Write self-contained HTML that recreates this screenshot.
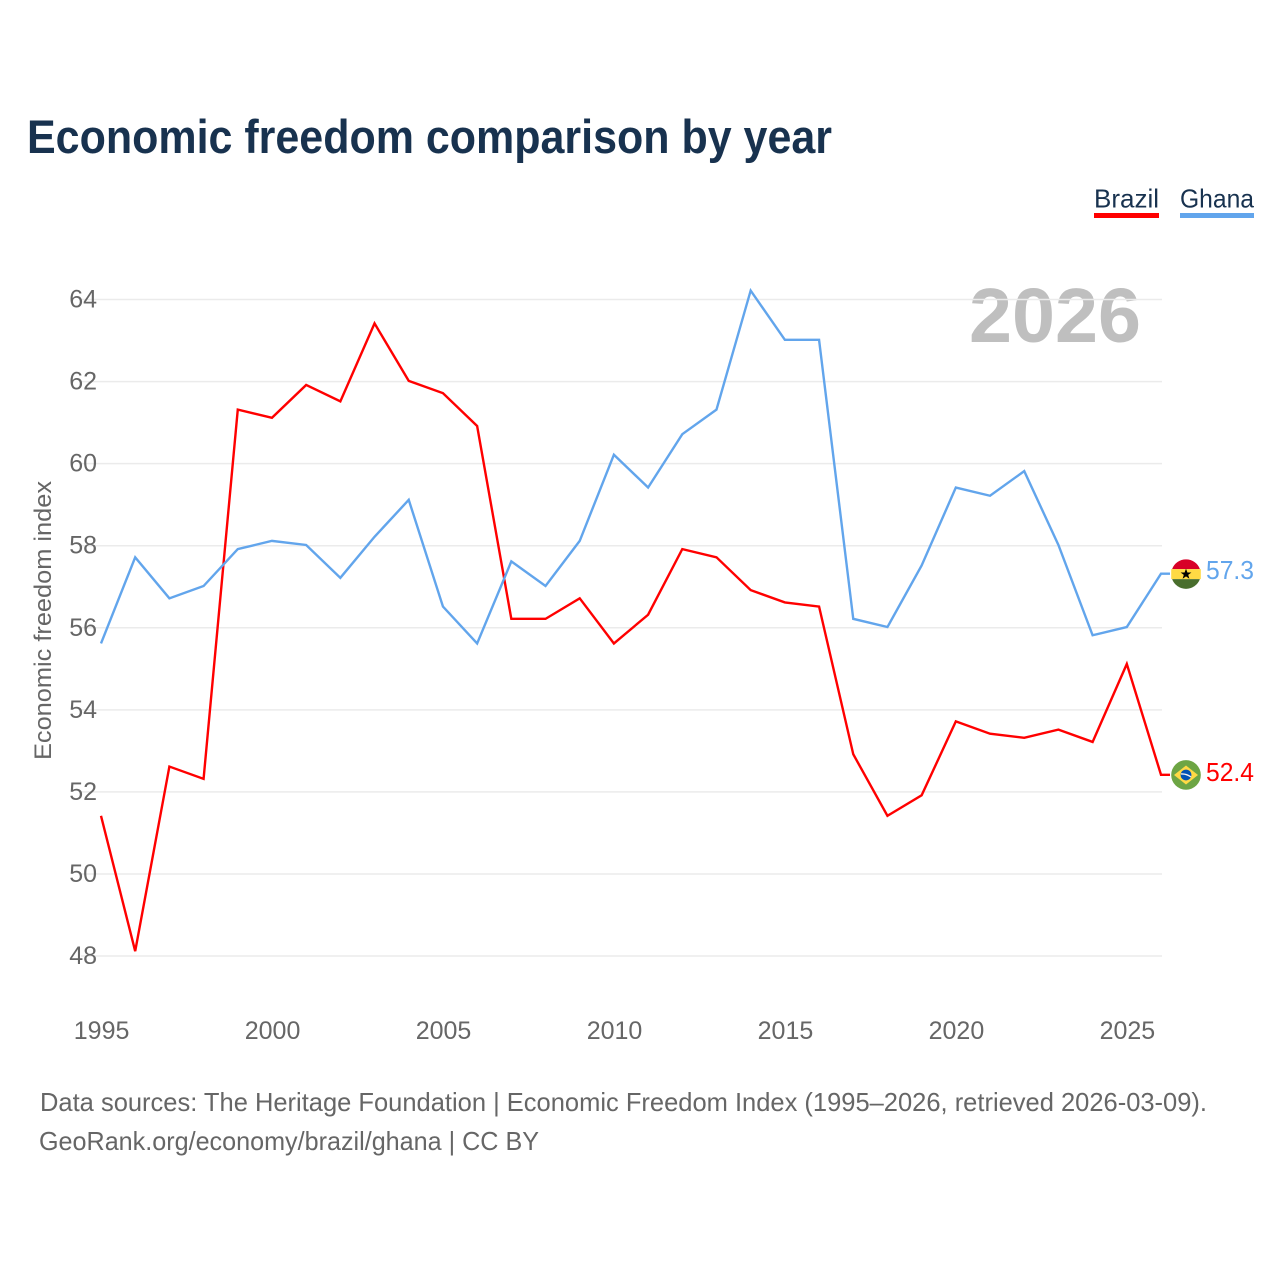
<!DOCTYPE html>
<html lang="en">
<head>
<meta charset="utf-8">
<title>Economic freedom comparison by year</title>
<style>
html,body{margin:0;padding:0;background:#fff;width:1280px;height:1280px;overflow:hidden}
svg{display:block}
text{font-family:"Liberation Sans",sans-serif}
</style>
</head>
<body>
<svg id="chart" xmlns="http://www.w3.org/2000/svg" width="1280" height="1280" viewBox="0 0 1280 1280">
  <rect width="1280" height="1280" fill="#fff"/>
  <text x="27" y="153" font-size="47" font-weight="700" fill="#18324f" textLength="805" lengthAdjust="spacingAndGlyphs">Economic freedom comparison by year</text>

  <g>
    <g>
      <text x="1094" y="207.5" font-size="26" fill="#18324f" textLength="65" lengthAdjust="spacingAndGlyphs">Brazil</text>
      <rect x="1094" y="213" width="65" height="5" fill="#ff0000"/>
    </g>
    <g>
      <text x="1180" y="207.5" font-size="26" fill="#18324f" textLength="74" lengthAdjust="spacingAndGlyphs">Ghana</text>
      <rect x="1180" y="213" width="74" height="5" fill="#62a5ec"/>
    </g>
  </g>

  <text x="969" y="342" font-size="77" font-weight="700" fill="#bfbfbf" textLength="172" lengthAdjust="spacingAndGlyphs">2026</text>

  <g id="grid"></g>
  <g id="yticks"></g>
  <g id="xticks"></g>

  <text transform="translate(51 760) rotate(-90)" font-size="24" fill="#666666" textLength="279" lengthAdjust="spacingAndGlyphs">Economic freedom index</text>

  <g id="series"></g>
  <g id="endpoints"></g>

  <g>
    <text x="40" y="1111" font-size="26" fill="#666666" textLength="1167" lengthAdjust="spacingAndGlyphs">Data sources: The Heritage Foundation | Economic Freedom Index (1995–2026, retrieved 2026-03-09).</text>
    <text x="39" y="1150" font-size="26" fill="#666666" textLength="500" lengthAdjust="spacingAndGlyphs">GeoRank.org/economy/brazil/ghana | CC BY</text>
  </g>
</svg>
<script>
const years = [1995,1996,1997,1998,1999,2000,2001,2002,2003,2004,2005,2006,2007,2008,2009,2010,2011,2012,2013,2014,2015,2016,2017,2018,2019,2020,2021,2022,2023,2024,2025,2026];
const brazilValues = [51.4,48.1,52.6,52.3,61.3,61.1,61.9,61.5,63.4,62.0,61.7,60.9,56.2,56.2,56.7,55.6,56.3,57.9,57.7,56.9,56.6,56.5,52.9,51.4,51.9,53.7,53.4,53.3,53.5,53.2,55.1,52.4];
const ghanaValues = [55.6,57.7,56.7,57.0,57.9,58.1,58.0,57.2,58.2,59.1,56.5,55.6,57.6,57.0,58.1,60.2,59.4,60.7,61.3,64.2,63.0,63.0,56.2,56.0,57.5,59.4,59.2,59.8,58.0,55.8,56.0,57.3];
const yTickValues = [48,50,52,54,56,58,60,62,64];
const xTickValues = [1995,2000,2005,2010,2015,2020,2025];

const NS = 'http://www.w3.org/2000/svg';
const xScale = function (year) { return 101 + (year - 1995) * (1161 - 101) / 31; };
const yScale = function (value) { return 956 - (value - 48) * (956 - 299.5) / 16; };
const lineY = function (value) { return yScale(value) - 0.7; };

function make(tag, attrs, parent) {
  const el = document.createElementNS(NS, tag);
  Object.keys(attrs).forEach(function (k) { el.setAttribute(k, attrs[k]); });
  parent.appendChild(el);
  return el;
}

const grid = document.getElementById('grid');
const yticks = document.getElementById('yticks');
yTickValues.forEach(function (v) {
  const y = yScale(v);
  const line = make('line', {x1: 81, x2: 1162, y1: y, y2: y, stroke: '#ebebeb', 'stroke-width': 1.5}, grid);
  
  
  const label = make('text', {x: 97, y: y + 8, 'text-anchor': 'end', 'font-size': 25, fill: '#666666'}, yticks);
  label.textContent = String(v);
  
  
});

const xticks = document.getElementById('xticks');
xTickValues.forEach(function (yr) {
  const label = make('text', {x: xScale(yr) + 0.6, y: 1039, 'text-anchor': 'middle', 'font-size': 25, fill: '#666666'}, xticks);
  label.textContent = String(yr);
  
  
});

const seriesGroup = document.getElementById('series');
const endpoints = document.getElementById('endpoints');

function drawLine(values, colour, key) {
  const pts = values.map(function (v, i) { return xScale(years[i]) + ',' + lineY(v); });
  const lastY = lineY(values[values.length - 1]);
  pts.push('1170,' + lastY);
  const line = make('polyline', {points: pts.join(' '), fill: 'none', stroke: colour, 'stroke-width': 2.4, 'stroke-linejoin': 'miter'}, seriesGroup);
  
  
  const label = make('text', {x: 1254, y: lastY + 5.2 + (key === 'ghana' ? 0 : 1), 'text-anchor': 'end', 'font-size': 25.5, fill: colour, textLength: 48, lengthAdjust: 'spacingAndGlyphs'}, endpoints);
  label.textContent = values[values.length - 1].toFixed(1);
  
  
  return lastY;
}

const brazilEndY = drawLine(brazilValues, '#ff0000', 'brazil');
const ghanaEndY = drawLine(ghanaValues, '#62a5ec', 'ghana');

const ghanaFlag = make('g', {transform: 'translate(1186 ' + (ghanaEndY + 0.4) + ')'}, endpoints);


make('path', {d: 'M-13.9 -5 A14.8 14.8 0 0 1 13.9 -5 Z', fill: '#d80027'}, ghanaFlag);
make('rect', {x: -14.8, y: -5, width: 29.6, height: 10, fill: '#ffda44'}, ghanaFlag);
make('path', {d: 'M-13.9 5 A14.8 14.8 0 0 0 13.9 5 Z', fill: '#496e2d'}, ghanaFlag);
make('polygon', {points: '0,-5.5 1.4,-1.6 5.4,-1.6 2.2,0.8 3.4,4.6 0,2.3 -3.4,4.6 -2.2,0.8 -5.4,-1.6 -1.4,-1.6', fill: '#000'}, ghanaFlag);

const brazilFlag = make('g', {transform: 'translate(1186 ' + (brazilEndY + 0.2) + ')'}, endpoints);


make('circle', {cx: 0, cy: 0, r: 14.8, fill: '#6da544'}, brazilFlag);
make('polygon', {points: '0,-9.5 12,0 0,9.5 -12,0', fill: '#ffda44'}, brazilFlag);
make('circle', {cx: 0, cy: 0, r: 5.4, fill: '#0052b4'}, brazilFlag);
make('path', {d: 'M-5 -1 Q0 -1.5 5 2', fill: 'none', stroke: '#f0f0f0', 'stroke-width': 1.4}, brazilFlag);
</script>
</body>
</html>
